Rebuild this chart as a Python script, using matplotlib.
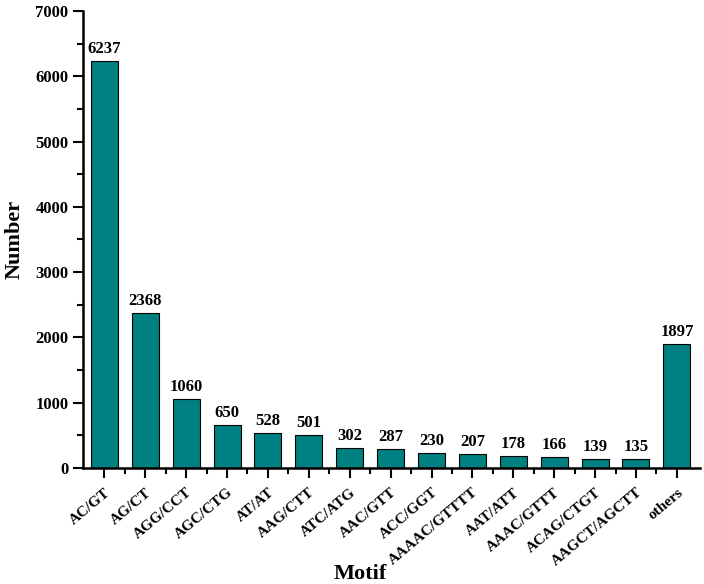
import numpy as np
import matplotlib
matplotlib.use("Agg")
import matplotlib.pyplot as plt
from matplotlib.ticker import MultipleLocator, FixedLocator

# motif counts
motifs = ["AC/GT", "AG/CT", "AGG/CCT", "AGC/CTG", "AT/AT", "AAG/CTT", "ATC/ATG",
          "AAC/GTT", "ACC/GGT", "AAAAC/GTTTT", "AAT/ATT", "AAAC/GTTT", "ACAG/CTGT",
          "AAGCT/AGCTT", "others"]
counts = [6237, 2368, 1060, 650, 528, 501, 302, 287, 230, 207, 178, 166, 139, 135, 1897]

plt.rcParams['font.family'] = ['Liberation Serif', 'DejaVu Serif']
plt.rcParams['font.weight'] = 'bold'

fig = plt.figure(figsize=(7.04, 5.84), dpi=100)
ax = fig.add_axes([0.118, 0.199, 0.876, 0.782])

x = np.arange(len(motifs))
bars = ax.bar(x, counts, width=0.66, color='#008080', edgecolor='black', linewidth=0.8)

for xi, c in zip(x, counts):
    ax.text(xi, c + 60, str(c), ha='center', va='bottom', fontsize=12, fontweight='bold')

ax.set_xlim(-0.52, 14.56)
ax.set_ylim(0, 7000)
ax.yaxis.set_major_locator(MultipleLocator(1000))
ax.yaxis.set_minor_locator(MultipleLocator(500))
ax.set_xticks(x)
ax.set_xticklabels(motifs, rotation=40, ha='right', rotation_mode='anchor', fontsize=11, fontweight='bold')
ax.xaxis.set_minor_locator(FixedLocator(x[:-1] + 0.5))

ax.tick_params(axis='both', which='major', direction='out', length=7, width=1.5, labelsize=12)
ax.tick_params(axis='both', which='minor', direction='out', length=4, width=1.5)
ax.tick_params(axis='x', labelsize=11, pad=6)

for s in ['top', 'right']:
    ax.spines[s].set_visible(False)
for s in ['left', 'bottom']:
    ax.spines[s].set_linewidth(1.8)

ax.set_ylabel("Number", fontsize=16, fontweight='bold', labelpad=8)
ax.set_xlabel("Motif", fontsize=16, fontweight='bold')
ax.xaxis.set_label_coords(0.449, -0.232)
ax.xaxis.label.set_va('center')

fig.savefig("out.png", dpi=100)
